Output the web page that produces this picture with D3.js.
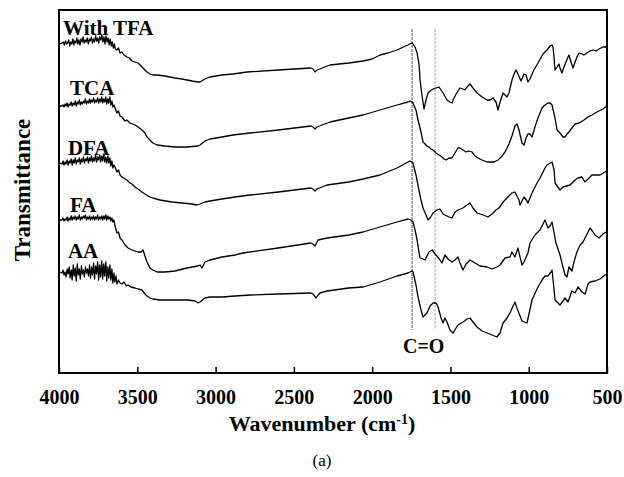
<!DOCTYPE html>
<html>
<head>
<meta charset="utf-8">
<script src="https://cdn.jsdelivr.net/npm/d3@7"></script>
<style>
  body { margin: 0; background: #fff; }
</style>
</head>
<body>
<script>
// FTIR spectra, stacked (values in a.u. with the offsets already in)
var names = ["With TFA", "TCA", "DFA", "FA", "AA"];
var labelPos = [[3974, 338], [3930, 278], [3943, 218], [3930, 161], [3943, 115]];
var ticks = [4000, 3500, 3000, 2500, 2000, 1500, 1000, 500];
var markers = [1745, 1598];
var serif = "'Liberation Serif', 'Times New Roman', serif";

var withTFA = [[3994,329],[3981,330],[3972,331],[3966,328],[3958,332],[3952,329],[3945,330],[3938,333],[3931,327],[3925,331],[3918,329],[3911,334],[3905,328],[3899,332],[3892,330],[3886,335],[3880,329],[3873,333],[3866,328],[3860,334],[3853,331],[3846,336],[3840,330],[3833,333],[3827,331],[3820,335],[3813,329],[3806,334],[3800,332],[3793,336],[3786,330],[3780,334],[3773,331],[3766,337],[3760,332],[3753,335],[3746,330],[3740,336],[3733,333],[3726,338],[3720,331],[3713,336],[3706,329],[3700,337],[3693,331],[3686,335],[3680,328],[3673,334],[3666,327],[3660,331],[3653,325],[3646,329],[3640,324],[3630,323],[3620,325],[3610,320],[3598,321],[3585,318],[3566,316],[3550,315],[3534,312],[3515,311],[3495,310],[3470,306],[3451,303],[3438,301],[3419,299],[3400,298],[3374,298],[3323,297],[3259,295],[3214,294],[3151,292],[3112,291],[3099,291],[3068,294],[3036,296],[2959,298],[2889,299],[2799,301],[2600,303],[2392,305],[2378,304],[2365,301],[2352,303],[2320,305],[2269,308],[2150,310],[2058,312],[2000,314],[1950,318],[1900,320],[1841,323],[1800,326],[1771,328],[1760,329],[1745,330],[1739,329],[1726,326],[1713,320],[1700,308],[1694,293],[1682,278],[1669,264],[1656,273],[1643,280],[1630,282],[1611,284],[1592,285],[1573,286],[1560,283],[1547,280],[1522,273],[1503,271],[1490,270],[1483,273],[1464,279],[1439,285],[1420,284],[1407,283],[1394,286],[1375,289],[1356,285],[1330,280],[1298,276],[1266,273],[1247,273],[1228,275],[1209,271],[1196,263],[1183,271],[1164,280],[1151,278],[1139,276],[1126,280],[1107,293],[1088,301],[1081,303],[1069,299],[1049,292],[1030,299],[1017,298],[1005,291],[992,294],[967,303],[941,310],[909,319],[883,323],[864,327],[851,328],[845,326],[838,315],[832,303],[819,306],[807,309],[800,305],[788,300],[775,306],[749,316],[743,318],[730,311],[717,305],[704,311],[692,316],[679,320],[660,319],[647,318],[628,320],[608,322],[589,323],[570,322],[551,324],[526,326],[506,326],[500,324]];

var tca = [[3994,267],[3981,267],[3974,268],[3968,266],[3961,269],[3955,267],[3948,270],[3942,266],[3935,269],[3929,268],[3922,271],[3916,267],[3909,270],[3903,268],[3896,272],[3890,267],[3883,271],[3877,269],[3870,273],[3864,268],[3857,271],[3851,269],[3844,272],[3838,270],[3831,274],[3825,269],[3818,272],[3812,270],[3805,274],[3799,270],[3792,273],[3786,271],[3779,275],[3773,270],[3766,273],[3760,271],[3753,275],[3747,270],[3740,274],[3734,271],[3727,276],[3721,270],[3714,274],[3708,271],[3701,276],[3695,269],[3688,274],[3682,270],[3675,276],[3669,268],[3662,272],[3656,266],[3649,268],[3642,265],[3630,260],[3620,262],[3610,257],[3598,256],[3578,252],[3566,253],[3547,250],[3530,249],[3515,248],[3495,246],[3470,243],[3451,240],[3438,236],[3419,233],[3400,230],[3374,228],[3323,227],[3259,226],[3182,226],[3112,227],[3099,228],[3068,232],[3036,234],[2959,236],[2889,238],[2780,240],[2600,243],[2392,247],[2378,246],[2365,244],[2352,246],[2320,248],[2269,251],[2150,255],[2058,258],[1950,263],[1841,268],[1771,271],[1758,272],[1745,271],[1739,270],[1720,263],[1707,253],[1688,241],[1675,231],[1662,229],[1650,227],[1637,226],[1624,224],[1611,223],[1592,220],[1573,218],[1554,216],[1541,214],[1528,213],[1509,215],[1490,215],[1471,220],[1452,225],[1439,225],[1420,223],[1400,221],[1382,222],[1362,221],[1343,217],[1324,215],[1298,213],[1266,211],[1240,211],[1222,211],[1196,213],[1170,217],[1151,221],[1126,229],[1107,237],[1088,247],[1075,249],[1062,243],[1043,230],[1030,228],[1017,235],[1005,239],[992,239],[979,236],[960,246],[941,255],[915,265],[896,268],[877,270],[864,270],[851,268],[832,255],[819,243],[800,240],[781,236],[768,236],[756,239],[743,241],[724,245],[704,249],[679,250],[647,253],[621,256],[596,258],[564,261],[526,264],[500,267]];

var dfa = [[3994,210],[3981,209],[3974,212],[3968,208],[3961,211],[3955,209],[3948,213],[3942,208],[3935,212],[3929,210],[3922,214],[3916,208],[3909,213],[3903,210],[3896,215],[3890,209],[3883,213],[3877,211],[3870,215],[3864,209],[3857,214],[3851,211],[3844,216],[3838,210],[3831,214],[3825,212],[3818,216],[3812,210],[3805,215],[3799,212],[3792,217],[3786,211],[3779,215],[3773,212],[3766,218],[3760,211],[3753,216],[3747,213],[3740,218],[3734,211],[3727,217],[3721,212],[3714,219],[3708,211],[3701,216],[3695,210],[3688,217],[3682,210],[3675,215],[3669,207],[3662,212],[3656,205],[3649,208],[3642,206],[3630,201],[3620,203],[3610,198],[3598,196],[3578,194],[3566,193],[3547,190],[3534,189],[3515,186],[3495,184],[3470,181],[3451,179],[3419,176],[3400,175],[3355,173],[3278,171],[3214,170],[3151,169],[3119,168],[3099,169],[3068,171],[3036,172],[2959,174],[2876,176],[2780,178],[2600,181],[2392,185],[2378,184],[2365,182],[2352,184],[2320,186],[2288,188],[2150,191],[2058,194],[1950,198],[1841,205],[1771,211],[1760,212],[1745,211],[1739,210],[1720,198],[1701,183],[1688,173],[1675,165],[1656,158],[1643,153],[1630,155],[1611,160],[1586,163],[1567,164],[1547,159],[1535,158],[1509,156],[1490,155],[1471,161],[1452,163],[1420,165],[1394,168],[1375,170],[1356,165],[1330,160],[1292,158],[1260,156],[1234,159],[1209,163],[1190,165],[1158,172],[1139,175],[1107,180],[1088,181],[1062,173],[1056,168],[1030,176],[1011,172],[1005,170],[979,180],[947,190],[928,195],[896,205],[883,208],[851,211],[838,203],[832,190],[800,183],[781,186],[736,188],[704,193],[685,195],[660,196],[641,191],[608,196],[596,198],[545,198],[513,201],[500,202]];

var fa = [[3994,153],[3981,153],[3974,155],[3968,152],[3961,154],[3955,153],[3948,156],[3942,152],[3935,155],[3929,153],[3922,157],[3916,153],[3909,156],[3903,154],[3896,157],[3890,153],[3883,156],[3877,154],[3870,158],[3864,153],[3857,156],[3851,154],[3844,157],[3838,155],[3831,158],[3825,153],[3818,156],[3812,154],[3805,157],[3799,153],[3792,156],[3786,154],[3779,157],[3773,153],[3766,156],[3760,154],[3753,158],[3747,153],[3740,156],[3734,154],[3727,157],[3721,153],[3714,157],[3708,154],[3701,158],[3695,153],[3688,157],[3682,154],[3675,156],[3669,152],[3662,155],[3656,151],[3649,153],[3642,147],[3630,140],[3620,141],[3610,135],[3598,133],[3578,128],[3559,125],[3534,123],[3515,122],[3495,121],[3476,121],[3463,123],[3451,117],[3438,111],[3419,105],[3400,103],[3374,101],[3323,101],[3259,102],[3182,105],[3151,106],[3112,107],[3099,108],[3087,105],[3068,111],[3036,113],[2959,116],[2876,118],[2825,120],[2600,125],[2392,130],[2378,129],[2365,127],[2346,133],[2288,135],[2150,138],[2058,141],[1950,146],[1841,151],[1771,154],[1752,153],[1739,151],[1726,143],[1713,133],[1701,121],[1694,115],[1675,114],[1662,113],[1637,121],[1617,123],[1598,119],[1586,117],[1567,113],[1554,110],[1535,118],[1515,114],[1490,111],[1471,113],[1452,116],[1439,110],[1420,103],[1400,109],[1375,113],[1343,110],[1311,107],[1266,106],[1234,104],[1203,106],[1183,108],[1151,115],[1120,116],[1107,121],[1088,116],[1069,125],[1043,108],[1030,111],[1005,120],[992,130],[960,138],[928,143],[896,153],[877,145],[864,147],[851,151],[826,130],[800,118],[788,110],[768,98],[756,96],[743,106],[724,102],[711,111],[692,121],[672,128],[653,131],[621,141],[608,145],[589,141],[577,138],[551,135],[526,139],[506,141],[500,142]];

var aa = [[3994,101],[3981,100],[3974,103],[3968,98],[3961,101],[3955,96],[3948,104],[3942,99],[3935,106],[3929,95],[3922,103],[3916,93],[3909,108],[3903,97],[3896,105],[3890,92],[3883,109],[3877,98],[3870,104],[3864,94],[3857,107],[3851,99],[3844,103],[3838,96],[3831,106],[3825,100],[3818,104],[3812,97],[3805,108],[3799,95],[3792,106],[3786,98],[3779,110],[3773,94],[3766,107],[3760,99],[3753,111],[3747,93],[3740,108],[3734,96],[3727,112],[3721,94],[3714,109],[3708,97],[3701,111],[3695,92],[3688,106],[3682,95],[3675,108],[3669,93],[3662,104],[3656,90],[3649,100],[3643,91],[3636,97],[3630,89],[3620,93],[3610,90],[3598,89],[3585,91],[3570,87],[3559,88],[3540,86],[3515,85],[3495,84],[3470,83],[3451,79],[3438,77],[3419,75],[3400,74],[3355,73],[3259,73],[3176,73],[3130,72],[3112,70],[3099,71],[3068,75],[3036,76],[2959,76],[2876,77],[2780,78],[2600,79],[2392,80],[2378,79],[2358,75],[2345,78],[2333,80],[2288,82],[2150,85],[2058,86],[1950,91],[1841,97],[1771,100],[1758,101],[1745,102],[1739,101],[1720,88],[1707,76],[1688,63],[1675,56],[1662,58],[1650,60],[1630,67],[1611,70],[1592,70],[1579,66],[1560,55],[1547,50],[1535,55],[1522,51],[1503,43],[1483,40],[1464,45],[1452,48],[1420,51],[1394,54],[1375,55],[1356,51],[1330,46],[1298,42],[1266,40],[1234,38],[1203,36],[1183,40],[1164,50],[1139,55],[1120,60],[1088,71],[1075,65],[1043,52],[1011,50],[979,73],[941,86],[915,93],[896,97],[877,97],[858,101],[851,103],[838,83],[832,73],[800,68],[768,75],[749,71],[724,82],[704,80],[685,86],[660,81],[640,79],[621,89],[608,91],[577,92],[545,94],[513,98],[500,99]];

var spectra = [withTFA, tca, dfa, fa, aa];

var m = { t: 10, r: 17, b: 104, l: 59 },
  width = 624 - m.l - m.r,
  height = 477 - m.t - m.b;

var x = d3.scaleLinear().domain([4000, 500]).range([0, width]);
var y = d3.scaleLinear().domain([0, 363]).range([height, 0]);

var svg = d3.select("body").append("svg")
  .attr("width", 624)
  .attr("height", 477);

var g = svg.append("g")
  .attr("transform", "translate(" + m.l + "," + m.t + ")");

// C=O guide lines
g.selectAll(".marker")
  .data(markers)
  .enter().append("line")
  .attr("class", "marker")
  .attr("x1", function(d) { return x(d); })
  .attr("x2", function(d) { return x(d); })
  .attr("y1", y(344))
  .attr("y2", y(43))
  .attr("stroke", function(d, i) { return i == 0 ? "#555" : "#aaa"; })
  .attr("stroke-width", 1)
  .attr("stroke-dasharray", "3,1");

var line = d3.line()
  .x(function(d) { return x(d[0]); })
  .y(function(d) { return y(d[1]); });

g.selectAll(".spec")
  .data(spectra)
  .enter().append("path")
  .attr("class", "spec")
  .attr("d", line)
  .attr("fill", "none")
  .attr("stroke", "#000")
  .attr("stroke-width", 1.3)
  .attr("stroke-linejoin", "round");

// series names
g.selectAll(".name")
  .data(names)
  .enter().append("text")
  .attr("class", "name")
  .attr("x", function(d, i) { return x(labelPos[i][0]); })
  .attr("y", function(d, i) { return y(labelPos[i][1]); })
  .style("font-family", serif)
  .style("font-size", "21px")
  .style("font-weight", "bold")
  .text(function(d) { return d; });

g.append("text")
  .attr("x", x(1671))
  .attr("y", y(20))
  .attr("text-anchor", "middle")
  .style("font-family", serif)
  .style("font-size", "20px")
  .style("font-weight", "bold")
  .text("C=O");

// axis with inward ticks
var xAxis = d3.axisBottom(x).tickValues(ticks).tickSize(-6).tickPadding(17).tickFormat(d3.format("d"));
var ax = g.append("g")
  .attr("transform", "translate(0," + height + ")")
  .call(xAxis);
ax.select(".domain").remove();
ax.selectAll(".tick line").attr("stroke", "#000").attr("stroke-width", 1.5);
ax.selectAll(".tick text")
  .style("font-family", serif)
  .style("font-size", "20px")
  .style("font-weight", "bold")
  .attr("fill", "#000");

// frame
g.append("rect")
  .attr("width", width)
  .attr("height", height)
  .attr("fill", "none")
  .attr("stroke", "#000")
  .attr("stroke-width", 2);

// axis titles
var xt = svg.append("text")
  .attr("x", 322)
  .attr("y", 431)
  .attr("text-anchor", "middle")
  .style("font-family", serif)
  .style("font-size", "22px")
  .style("font-weight", "bold");
xt.append("tspan").text("Wavenumber (cm");
xt.append("tspan").attr("dy", -7).style("font-size", "14px").text("-1");
xt.append("tspan").attr("dy", 7).text(")");

svg.append("text")
  .attr("transform", "translate(30,190) rotate(-90)")
  .attr("text-anchor", "middle")
  .style("font-family", serif)
  .style("font-size", "23px")
  .style("font-weight", "bold")
  .text("Transmittance");

svg.append("text")
  .attr("x", 322)
  .attr("y", 466)
  .attr("text-anchor", "middle")
  .style("font-family", serif)
  .style("font-size", "17px")
  .text("(a)");
</script>
</body>
</html>
